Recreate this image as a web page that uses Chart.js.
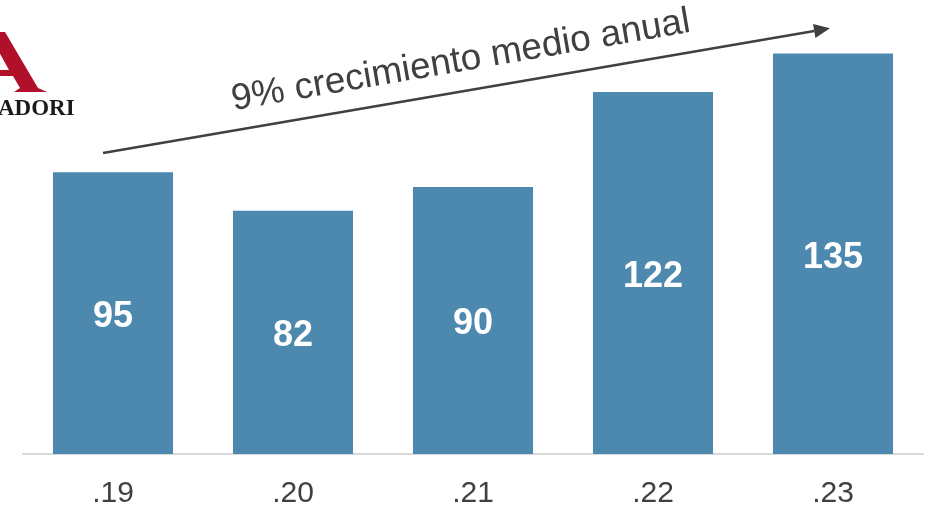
<!DOCTYPE html>
<html>
<head>
<meta charset="utf-8">
<script src="https://cdn.jsdelivr.net/npm/chart.js@4/dist/chart.umd.min.js"></script>
<style>
  html, body { margin: 0; padding: 0; background: #ffffff; }
  #wrap { width: 942px; height: 510px; position: relative; }
</style>
</head>
<body>
<div id="wrap"><canvas id="c" width="942" height="510"></canvas></div>
<script>
// Periods on the horizontal axis
const categories = ['.19', '.20', '.21', '.22', '.23'];
// Yearly totals
const values = [95, 82, 90, 122, 135];
// Growth annotation text
const growthLabel = '9% crecimiento medio anual';
const brandName = 'ADORI';

const barColor = '#4d89ae';
const inkColor = '#404040';

// White value labels centred inside each bar
const barValueLabels = {
  id: 'barValueLabels',
  afterDatasetsDraw(chart) {
    const ctx = chart.ctx;
    const meta = chart.getDatasetMeta(0);
    ctx.save();
    ctx.fillStyle = '#ffffff';
    ctx.font = 'bold 36px "Liberation Sans", Arial, sans-serif';
    ctx.textAlign = 'center';
    ctx.textBaseline = 'middle';
    meta.data.forEach((bar, i) => {
      const mid = (bar.y + bar.base) / 2;
      ctx.fillText(String(values[i]), bar.x, mid + 4);
    });
    ctx.restore();
  }
};

// Trend arrow over the bars with its caption, plus the brand mark in the corner
const decorations = {
  id: 'decorations',
  afterDraw(chart) {
    const ctx = chart.ctx;
    const xs = chart.scales.x;
    const ys = chart.scales.y;
    const x0 = xs.getPixelForValue(0) - 10;
    const y0 = ys.getPixelForValue(101.5);
    const x1 = xs.getPixelForValue(4) - 3;
    const y1 = ys.getPixelForValue(143.5);
    const ang = Math.atan2(y1 - y0, x1 - x0);

    ctx.save();
    ctx.strokeStyle = inkColor;
    ctx.fillStyle = inkColor;
    ctx.lineWidth = 2.5;
    const head = 16;
    const bx = x1 - head * Math.cos(ang);
    const by = y1 - head * Math.sin(ang);
    ctx.beginPath();
    ctx.moveTo(x0, y0);
    ctx.lineTo(bx, by);
    ctx.stroke();
    ctx.beginPath();
    ctx.moveTo(x1, y1);
    ctx.lineTo(bx + 7 * Math.sin(ang), by - 7 * Math.cos(ang));
    ctx.lineTo(bx - 7 * Math.sin(ang), by + 7 * Math.cos(ang));
    ctx.closePath();
    ctx.fill();

    // caption running along the arrow
    const tx = 466;
    const ty = y0 + (tx - x0) * Math.tan(ang);
    ctx.translate(tx, ty);
    ctx.rotate(ang);
    ctx.font = '37px "Liberation Sans", Arial, sans-serif';
    ctx.textAlign = 'center';
    ctx.textBaseline = 'alphabetic';
    ctx.fillText(growthLabel, 0, -20);
    ctx.restore();

    // brand mark
    ctx.save();
    ctx.fillStyle = '#b01029';
    ctx.beginPath();
    ctx.moveTo(-8, 32);
    ctx.lineTo(5, 32);
    ctx.lineTo(38, 88);
    ctx.lineTo(47, 92);
    ctx.lineTo(14, 92);
    ctx.lineTo(20, 88);
    ctx.lineTo(13, 76);
    ctx.lineTo(-8, 76);
    ctx.closePath();
    ctx.fill();
    ctx.fillStyle = '#ffffff';
    ctx.beginPath();
    ctx.moveTo(-2, 50);
    ctx.lineTo(9, 70);
    ctx.lineTo(-2, 70);
    ctx.closePath();
    ctx.fill();
    ctx.fillStyle = '#1a1a1a';
    ctx.font = 'bold 23px "Liberation Serif", "Times New Roman", serif';
    ctx.textBaseline = 'alphabetic';
    ctx.textAlign = 'left';
    ctx.fillText(brandName, -2, 115);
    ctx.restore();
  }
};

new Chart(document.getElementById('c'), {
  type: 'bar',
  data: {
    labels: categories,
    datasets: [{
      data: values,
      backgroundColor: barColor,
      borderWidth: 0,
      barPercentage: 0.667,
      categoryPercentage: 1.0
    }]
  },
  options: {
    responsive: false,
    animation: false,
    devicePixelRatio: 1,
    layout: { padding: { left: 23, right: 19, top: 12, bottom: -24 } },
    plugins: { legend: { display: false }, tooltip: { enabled: false } },
    scales: {
      x: {
        grid: { display: false, drawTicks: false },
        border: { display: true, color: '#d9d9d9', width: 2 },
        ticks: {
          color: inkColor,
          padding: 22,
          font: { family: '"Liberation Sans", Arial, sans-serif', size: 30 }
        }
      },
      y: {
        display: false,
        min: 0,
        max: 149
      }
    }
  },
  plugins: [barValueLabels, decorations]
});
</script>
</body>
</html>
